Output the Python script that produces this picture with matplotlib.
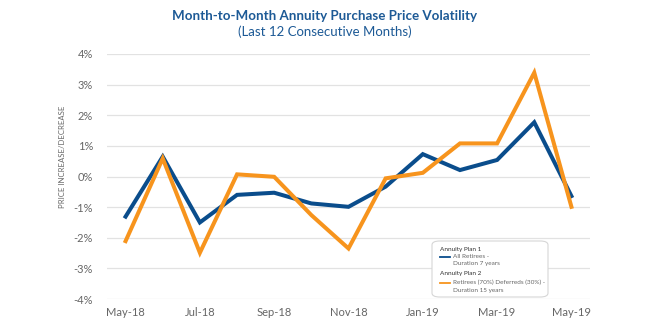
import matplotlib
matplotlib.use("Agg")
import matplotlib.pyplot as plt
from matplotlib.patches import FancyBboxPatch
from matplotlib.lines import Line2D

months = ["May-18", "Jun-18", "Jul-18", "Aug-18", "Sep-18", "Oct-18", "Nov-18",
          "Dec-18", "Jan-19", "Feb-19", "Mar-19", "Apr-19", "May-19"]
plan1 = [-1.31, 0.65, -1.50, -0.60, -0.53, -0.88, -0.99, -0.33, 0.73, 0.21, 0.54, 1.77, -0.64]
plan2 = [-2.11, 0.59, -2.49, 0.07, -0.01, -1.26, -2.35, -0.06, 0.12, 1.08, 1.08, 3.39, -0.99]
yticks = [-4, -3, -2, -1, 0, 1, 2, 3, 4]

BLUE = "#0A4D8C"
ORANGE = "#F7941D"
TITLE = "#1D5A96"
GREY = "#666666"

plt.rcParams['font.family'] = ['Lato', 'DejaVu Sans']

W, H = 650, 325
fig = plt.figure(figsize=(6.5, 3.25), dpi=100)
def fx(x): return x / W
def fy(y): return 1 - y / H

ax = fig.add_axes([fx(107), fy(299), fx(590) - fx(107), fy(54) - fy(299)])
x = list(range(len(months)))
ax.plot(x, plan1, color=BLUE, lw=2.9, solid_joinstyle='miter', zorder=3, clip_on=False)
ax.plot(x, plan2, color=ORANGE, lw=2.9, solid_joinstyle='miter', zorder=4, clip_on=False)

ax.set_xlim(-0.5, len(months) - 0.5)
ax.set_ylim(-4, 4)
ax.set_yticks(yticks)
ax.set_yticklabels([f"{v}%" for v in yticks])
ax.set_xticks(x[::2])
ax.set_xticklabels(months[::2])
ax.grid(axis='y', color='#e2e2e2', lw=0.9)
ax.set_axisbelow(True)
for s in ax.spines.values():
    s.set_visible(False)
ax.tick_params(axis='both', length=0, labelsize=8, labelcolor=GREY)
ax.tick_params(axis='y', pad=10)
ax.tick_params(axis='x', pad=6)
fig.text(fx(63), fy(157), "PRICE INCREASE/DECREASE", rotation=90, fontsize=5.6,
         color=GREY, ha='center', va='center')

fig.text(0.5, fy(16), "Month-to-Month Annuity Purchase Price Volatility",
         ha='center', va='center', fontsize=9.6, fontweight='bold', color=TITLE)
fig.text(0.5, fy(32), "(Last 12 Consecutive Months)",
         ha='center', va='center', fontsize=9.5, color=TITLE)

# legend box
box = FancyBboxPatch((fx(432), fy(297)), fx(548) - fx(432), fy(241) - fy(297),
                     boxstyle="round,pad=0,rounding_size=0.012",
                     transform=fig.transFigure, facecolor='white',
                     edgecolor='#d6d6d6', lw=0.8, zorder=5)
fig.add_artist(box)
lfs = 4.6
fig.text(fx(440), fy(249.5), "Annuity Plan 1", fontsize=lfs, color='#333333',
         va='center', ha='left', zorder=6)
fig.add_artist(Line2D([fx(440), fx(450)], [fy(256.7), fy(256.7)], color=BLUE, lw=1.3,
                      transform=fig.transFigure, zorder=6))
fig.text(fx(453), fy(256.7), "All Retirees -", fontsize=lfs, color=GREY, va='center', ha='left', zorder=6)
fig.text(fx(453), fy(264), "Duration 7 years", fontsize=lfs, color=GREY, va='center', ha='left', zorder=6)
fig.text(fx(440), fy(273.3), "Annuity Plan 2", fontsize=lfs, color='#333333',
         va='center', ha='left', zorder=6)
fig.add_artist(Line2D([fx(440), fx(450)], [fy(282.7), fy(282.7)], color=ORANGE, lw=1.3,
                      transform=fig.transFigure, zorder=6))
fig.text(fx(453), fy(282.7), "Retirees (70%) Deferreds (30%) -", fontsize=lfs, color=GREY, va='center', ha='left', zorder=6)
fig.text(fx(453), fy(290.5), "Duration 15 years", fontsize=lfs, color=GREY, va='center', ha='left', zorder=6)

fig.savefig("out.png", dpi=100)
